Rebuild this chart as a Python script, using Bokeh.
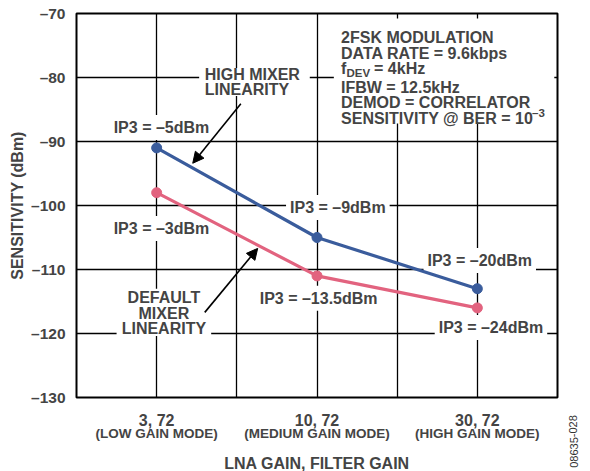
from bokeh.plotting import figure
from bokeh.layouts import row
from bokeh.models import (Range1d, FixedTicker, LinearAxis, Label, Arrow,
                          NormalHead, BoxAnnotation)
from bokeh.embed import file_html
from bokeh.resources import INLINE

# ---- data ----
x_pos = [1, 3, 5]
x_gain = ["3, 72", "10, 72", "30, 72"]
x_mode = ["(LOW GAIN MODE)", "(MEDIUM GAIN MODE)", "(HIGH GAIN MODE)"]
high_mixer = [-91, -105, -113]
default_mixer = [-98, -111, -116]
high_ip3 = ["IP3 = –5dBm", "IP3 = –9dBm", "IP3 = –20dBm"]
default_ip3 = ["IP3 = –3dBm", "IP3 = –13.5dBm", "IP3 = –24dBm"]
y_ticks = [-130, -120, -110, -100, -90, -80, -70]
figure_id = "08635-028"

FONT = "Liberation Sans"
BLUE = "#3A5C9C"
PINK = "#E2637F"

p = figure(frame_width=481, frame_height=384, output_backend="svg",
           toolbar_location=None, x_range=Range1d(0, 6), y_range=Range1d(-130, -70),
           min_border_left=76, min_border_top=13, min_border_right=6, min_border_bottom=70)
p.background_fill_color = "white"
p.border_fill_color = "white"
p.outline_line_color = "black"
p.outline_line_width = 2

# grids
p.xgrid.ticker = FixedTicker(ticks=[1, 2, 3, 4, 5])
p.ygrid.ticker = FixedTicker(ticks=y_ticks[1:-1])
for g in (p.xgrid, p.ygrid):
    g.grid_line_color = "black"
    g.grid_line_width = 1.3
    g.grid_line_alpha = 1.0

# y axis
ya = p.yaxis[0]
ya.ticker = FixedTicker(ticks=y_ticks)
ya.major_label_overrides = {t: ("–" + str(abs(t))) for t in y_ticks}
ya.major_label_text_font = FONT
ya.major_label_text_font_style = "bold"
ya.major_label_text_font_size = "15.5px"
ya.major_label_standoff = 5
ya.major_tick_line_color = None
ya.minor_tick_line_color = None
ya.axis_line_color = None
ya.axis_label = "SENSITIVITY (dBm)"
ya.axis_label_text_font = FONT
ya.axis_label_text_font_style = "bold"
ya.axis_label_text_font_size = "16px"
ya.axis_label_standoff = 2

# x axis (gain values)
xa = p.xaxis[0]
xa.ticker = FixedTicker(ticks=x_pos)
xa.major_label_overrides = dict(zip(x_pos, x_gain))
xa.major_label_text_font = FONT
xa.major_label_text_font_style = "bold"
xa.major_label_text_font_size = "16px"
xa.major_label_standoff = 8
xa.major_tick_line_color = None
xa.minor_tick_line_color = None
xa.axis_line_color = None

# second x axis (mode names + axis title)
xb = LinearAxis(ticker=FixedTicker(ticks=x_pos),
                major_label_overrides=dict(zip(x_pos, x_mode)))
xb.major_label_text_font = FONT
xb.major_label_text_font_style = "bold"
xb.major_label_text_font_size = "13.5px"
xb.major_label_standoff = -12
xb.major_tick_line_color = None
xb.minor_tick_line_color = None
xb.axis_line_color = None
xb.axis_label = "LNA GAIN, FILTER GAIN"
xb.axis_label_text_font = FONT
xb.axis_label_text_font_style = "bold"
xb.axis_label_text_font_size = "16px"
xb.axis_label_standoff = 11
p.add_layout(xb, "below")

# white backgrounds behind the text blocks
for l_, r_, t_, b_ in [(3.21, 5.96, -70.8, -87.2), (1.53, 2.91, -78.5, -82.9),
                       (0.5, 1.68, -113.0, -120.4)]:
    p.add_layout(BoxAnnotation(left=l_, right=r_, top=t_, bottom=b_, level="underlay",
                               fill_color="white", fill_alpha=1.0, line_color=None))


def lab(x, y, text, size="16px", align="center", baseline="middle", bg="white",
        xo=0, yo=0, style="bold", **kw):
    l = Label(x=x, y=y, text=text, text_font=FONT, text_font_style=style,
              text_font_size=size, text_align=align, text_baseline=baseline,
              x_offset=xo, y_offset=yo, **kw)
    if bg:
        l.background_fill_color = bg
        l.padding = 4
        l.level = "underlay"
    p.add_layout(l)
    return l


# IP3 labels (white backgrounds cut the grid, drawn below the series)
high_lab_pos = [(1.06, -87.8), (3.26, -100.3), (5.03, -108.6)]
def_lab_pos = [(1.06, -103.6), (3.02, -114.5), (5.17, -119.06)]
for (lx, ly), t in zip(high_lab_pos, high_ip3):
    lab(lx, ly, t)
for (lx, ly), t in zip(def_lab_pos, default_ip3):
    lab(lx, ly, t)

# series
p.line(x_pos, high_mixer, line_color=BLUE, line_width=3.2)
p.scatter(x_pos, high_mixer, size=10, fill_color=BLUE, line_color=BLUE)
p.line(x_pos, default_mixer, line_color=PINK, line_width=3.2)
p.scatter(x_pos, default_mixer, size=10, fill_color=PINK, line_color=PINK)

# series annotations
lab(1.6, -79.53, "HIGH MIXER", align="left", bg=None)
lab(1.6, -81.88, "LINEARITY", align="left", bg=None)
lab(1.09, -114.4, "DEFAULT", bg=None)
lab(1.09, -116.85, "MIXER", bg=None)
lab(1.09, -119.2, "LINEARITY", bg=None)

p.add_layout(Arrow(end=NormalHead(size=11, fill_color="black", line_color="black"),
                   x_start=2.05, y_start=-84.1, x_end=1.45, y_end=-93.4,
                   line_color="black", line_width=1.6))
p.add_layout(Arrow(end=NormalHead(size=11, fill_color="black", line_color="black"),
                   x_start=1.6, y_start=-116.7, x_end=2.26, y_end=-106.7,
                   line_color="black", line_width=1.6))

# conditions text
bx = 3.3
lab(bx, -73.7, "2FSK MODULATION", align="left", baseline="alphabetic", bg=None)
lab(bx, -76.3, "DATA RATE = 9.6kbps", align="left", baseline="alphabetic", bg=None)
lab(bx, -78.67, "f", align="left", baseline="alphabetic", bg=None)
lab(bx, -78.67, "DEV", size="11.5px", align="left", baseline="alphabetic", bg=None,
    xo=5.5, yo=-4)
lab(bx, -78.67, "= 4kHz", align="left", baseline="alphabetic", bg=None, xo=33)
lab(bx, -81.5, "IFBW = 12.5kHz", align="left", baseline="alphabetic", bg=None)
lab(bx, -83.86, "DEMOD = CORRELATOR", align="left", baseline="alphabetic", bg=None)
lab(bx, -86.45, "SENSITIVITY @ BER = 10", align="left", baseline="alphabetic", bg=None)
lab(bx, -86.45, "–3", size="11.5px", align="left", baseline="alphabetic", bg=None,
    xo=191, yo=6)

# narrow side strip with the vertical figure id (pixel-mapped range)
side = figure(frame_width=27, frame_height=470, output_backend="svg",
              toolbar_location=None, title=None,
              x_range=Range1d(0, 27), y_range=Range1d(470, 0),
              min_border=0, outline_line_color=None)
side.axis.visible = False
side.grid.visible = False
side.add_layout(Label(x=10, y=428, text=figure_id, angle=1.5708,
                      text_align="center", text_baseline="middle",
                      text_font=FONT, text_font_size="11px", text_color="#333333"))

open("out.html", "w").write(file_html(row(p, side), INLINE))
